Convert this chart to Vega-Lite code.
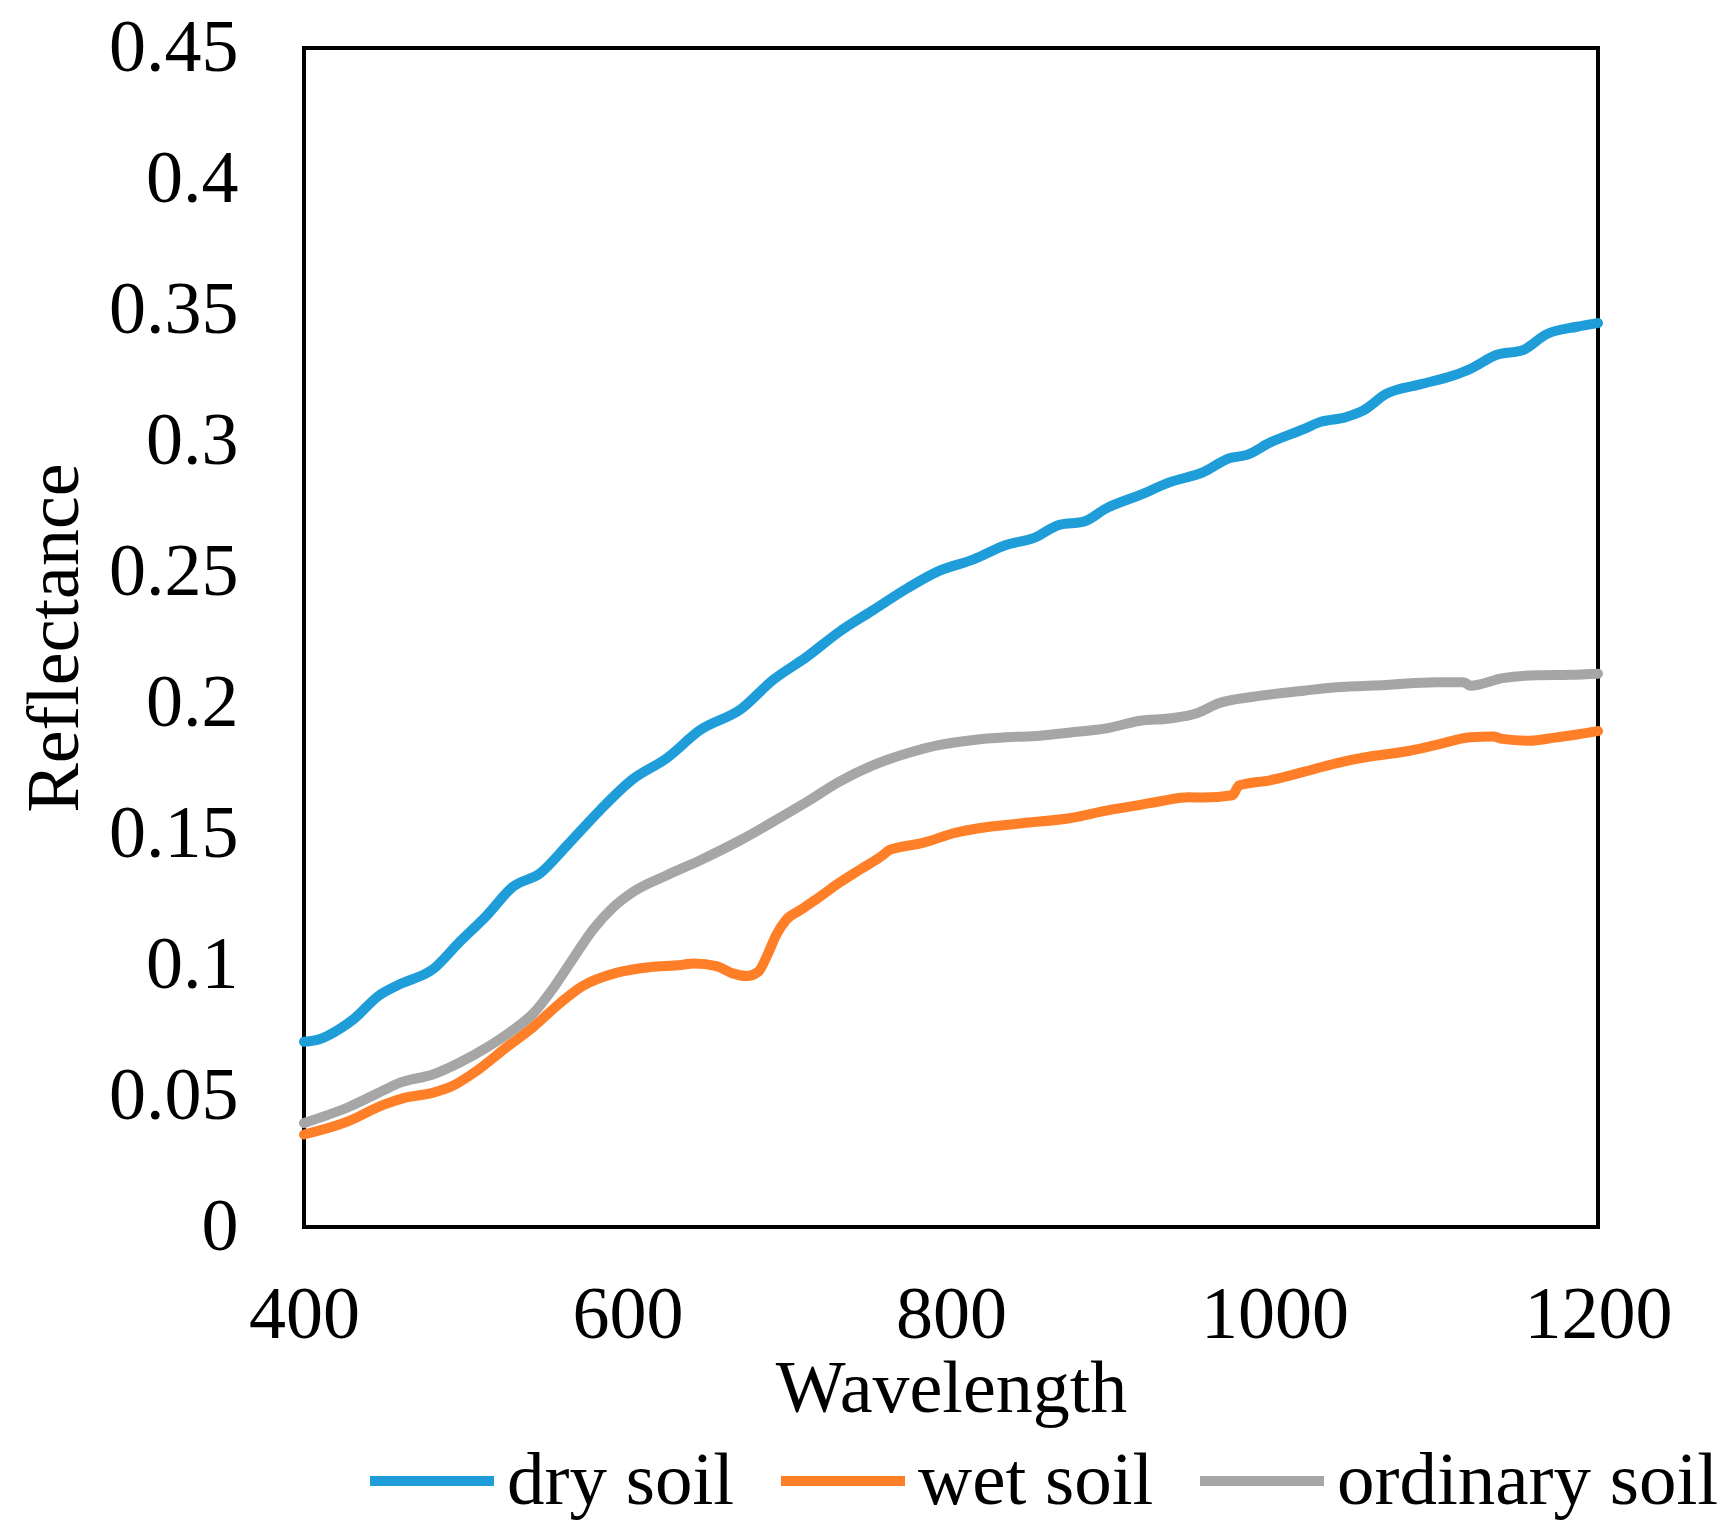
{
  "$schema": "https://vega.github.io/schema/vega-lite/v6.json",
  "width": 1294,
  "height": 1179,
  "autosize": {"type": "none"},
  "padding": {"left": 304, "top": 48, "right": 130, "bottom": 310},
  "background": "white",
  "data": {
    "values": [
      {"soil": "dry soil", "wavelength": 400, "reflectance": 0.0707},
      {"soil": "dry soil", "wavelength": 410, "reflectance": 0.0718},
      {"soil": "dry soil", "wavelength": 422, "reflectance": 0.0756},
      {"soil": "dry soil", "wavelength": 431, "reflectance": 0.0795},
      {"soil": "dry soil", "wavelength": 446, "reflectance": 0.0882},
      {"soil": "dry soil", "wavelength": 459, "reflectance": 0.0926},
      {"soil": "dry soil", "wavelength": 480, "reflectance": 0.0985},
      {"soil": "dry soil", "wavelength": 496, "reflectance": 0.1087},
      {"soil": "dry soil", "wavelength": 513, "reflectance": 0.1189},
      {"soil": "dry soil", "wavelength": 529, "reflectance": 0.1298},
      {"soil": "dry soil", "wavelength": 546, "reflectance": 0.135},
      {"soil": "dry soil", "wavelength": 563, "reflectance": 0.1459},
      {"soil": "dry soil", "wavelength": 583, "reflectance": 0.1591},
      {"soil": "dry soil", "wavelength": 603, "reflectance": 0.1708},
      {"soil": "dry soil", "wavelength": 624, "reflectance": 0.1788},
      {"soil": "dry soil", "wavelength": 645, "reflectance": 0.1897},
      {"soil": "dry soil", "wavelength": 670, "reflectance": 0.1976},
      {"soil": "dry soil", "wavelength": 690, "reflectance": 0.2088},
      {"soil": "dry soil", "wavelength": 711, "reflectance": 0.2177},
      {"soil": "dry soil", "wavelength": 731, "reflectance": 0.2272},
      {"soil": "dry soil", "wavelength": 752, "reflectance": 0.2355},
      {"soil": "dry soil", "wavelength": 773, "reflectance": 0.2438},
      {"soil": "dry soil", "wavelength": 793, "reflectance": 0.2505},
      {"soil": "dry soil", "wavelength": 814, "reflectance": 0.2548},
      {"soil": "dry soil", "wavelength": 834, "reflectance": 0.2603},
      {"soil": "dry soil", "wavelength": 851, "reflectance": 0.2629},
      {"soil": "dry soil", "wavelength": 867, "reflectance": 0.268},
      {"soil": "dry soil", "wavelength": 882, "reflectance": 0.2692},
      {"soil": "dry soil", "wavelength": 896, "reflectance": 0.2743},
      {"soil": "dry soil", "wavelength": 917, "reflectance": 0.2794},
      {"soil": "dry soil", "wavelength": 935, "reflectance": 0.2842},
      {"soil": "dry soil", "wavelength": 956, "reflectance": 0.2881},
      {"soil": "dry soil", "wavelength": 972, "reflectance": 0.2934},
      {"soil": "dry soil", "wavelength": 983, "reflectance": 0.2947},
      {"soil": "dry soil", "wavelength": 997, "reflectance": 0.2993},
      {"soil": "dry soil", "wavelength": 1018, "reflectance": 0.3045},
      {"soil": "dry soil", "wavelength": 1028, "reflectance": 0.3072},
      {"soil": "dry soil", "wavelength": 1044, "reflectance": 0.3091},
      {"soil": "dry soil", "wavelength": 1055, "reflectance": 0.3117},
      {"soil": "dry soil", "wavelength": 1069, "reflectance": 0.318},
      {"soil": "dry soil", "wavelength": 1090, "reflectance": 0.3216},
      {"soil": "dry soil", "wavelength": 1110, "reflectance": 0.3249},
      {"soil": "dry soil", "wavelength": 1121, "reflectance": 0.3275},
      {"soil": "dry soil", "wavelength": 1137, "reflectance": 0.3328},
      {"soil": "dry soil", "wavelength": 1154, "reflectance": 0.3348},
      {"soil": "dry soil", "wavelength": 1168, "reflectance": 0.3407},
      {"soil": "dry soil", "wavelength": 1187, "reflectance": 0.3436},
      {"soil": "dry soil", "wavelength": 1200, "reflectance": 0.345},
      {"soil": "wet soil", "wavelength": 400, "reflectance": 0.0353},
      {"soil": "wet soil", "wavelength": 426, "reflectance": 0.04},
      {"soil": "wet soil", "wavelength": 449, "reflectance": 0.0466},
      {"soil": "wet soil", "wavelength": 461, "reflectance": 0.0491},
      {"soil": "wet soil", "wavelength": 480, "reflectance": 0.0513},
      {"soil": "wet soil", "wavelength": 492, "reflectance": 0.0539},
      {"soil": "wet soil", "wavelength": 507, "reflectance": 0.0597},
      {"soil": "wet soil", "wavelength": 525, "reflectance": 0.0685},
      {"soil": "wet soil", "wavelength": 542, "reflectance": 0.0765},
      {"soil": "wet soil", "wavelength": 558, "reflectance": 0.0853},
      {"soil": "wet soil", "wavelength": 572, "reflectance": 0.0919},
      {"soil": "wet soil", "wavelength": 593, "reflectance": 0.097},
      {"soil": "wet soil", "wavelength": 614, "reflectance": 0.0992},
      {"soil": "wet soil", "wavelength": 633, "reflectance": 0.1},
      {"soil": "wet soil", "wavelength": 641, "reflectance": 0.1006},
      {"soil": "wet soil", "wavelength": 655, "reflectance": 0.0996},
      {"soil": "wet soil", "wavelength": 665, "reflectance": 0.0968},
      {"soil": "wet soil", "wavelength": 674, "reflectance": 0.0958},
      {"soil": "wet soil", "wavelength": 681, "reflectance": 0.0975},
      {"soil": "wet soil", "wavelength": 686, "reflectance": 0.1032},
      {"soil": "wet soil", "wavelength": 692, "reflectance": 0.1115},
      {"soil": "wet soil", "wavelength": 698, "reflectance": 0.1172},
      {"soil": "wet soil", "wavelength": 707, "reflectance": 0.121},
      {"soil": "wet soil", "wavelength": 719, "reflectance": 0.1261},
      {"soil": "wet soil", "wavelength": 731, "reflectance": 0.1314},
      {"soil": "wet soil", "wavelength": 744, "reflectance": 0.1365},
      {"soil": "wet soil", "wavelength": 755, "reflectance": 0.1407},
      {"soil": "wet soil", "wavelength": 758, "reflectance": 0.142},
      {"soil": "wet soil", "wavelength": 762, "reflectance": 0.1439},
      {"soil": "wet soil", "wavelength": 782, "reflectance": 0.1465},
      {"soil": "wet soil", "wavelength": 803, "reflectance": 0.1505},
      {"soil": "wet soil", "wavelength": 817, "reflectance": 0.1522},
      {"soil": "wet soil", "wavelength": 844, "reflectance": 0.1541},
      {"soil": "wet soil", "wavelength": 875, "reflectance": 0.1562},
      {"soil": "wet soil", "wavelength": 896, "reflectance": 0.1589},
      {"soil": "wet soil", "wavelength": 917, "reflectance": 0.1611},
      {"soil": "wet soil", "wavelength": 931, "reflectance": 0.1627},
      {"soil": "wet soil", "wavelength": 947, "reflectance": 0.164},
      {"soil": "wet soil", "wavelength": 956, "reflectance": 0.1639},
      {"soil": "wet soil", "wavelength": 974, "reflectance": 0.1648},
      {"soil": "wet soil", "wavelength": 978, "reflectance": 0.1685},
      {"soil": "wet soil", "wavelength": 997, "reflectance": 0.1705},
      {"soil": "wet soil", "wavelength": 1018, "reflectance": 0.1737},
      {"soil": "wet soil", "wavelength": 1038, "reflectance": 0.177},
      {"soil": "wet soil", "wavelength": 1059, "reflectance": 0.1796},
      {"soil": "wet soil", "wavelength": 1080, "reflectance": 0.1814},
      {"soil": "wet soil", "wavelength": 1100, "reflectance": 0.184},
      {"soil": "wet soil", "wavelength": 1121, "reflectance": 0.1869},
      {"soil": "wet soil", "wavelength": 1135, "reflectance": 0.1872},
      {"soil": "wet soil", "wavelength": 1141, "reflectance": 0.1863},
      {"soil": "wet soil", "wavelength": 1158, "reflectance": 0.1856},
      {"soil": "wet soil", "wavelength": 1172, "reflectance": 0.1867},
      {"soil": "wet soil", "wavelength": 1187, "reflectance": 0.188},
      {"soil": "wet soil", "wavelength": 1200, "reflectance": 0.1893},
      {"soil": "ordinary soil", "wavelength": 400, "reflectance": 0.0397},
      {"soil": "ordinary soil", "wavelength": 428, "reflectance": 0.0459},
      {"soil": "ordinary soil", "wavelength": 449, "reflectance": 0.0521},
      {"soil": "ordinary soil", "wavelength": 459, "reflectance": 0.055},
      {"soil": "ordinary soil", "wavelength": 480, "reflectance": 0.0583},
      {"soil": "ordinary soil", "wavelength": 496, "reflectance": 0.0627},
      {"soil": "ordinary soil", "wavelength": 513, "reflectance": 0.0685},
      {"soil": "ordinary soil", "wavelength": 529, "reflectance": 0.0751},
      {"soil": "ordinary soil", "wavelength": 542, "reflectance": 0.0817},
      {"soil": "ordinary soil", "wavelength": 554, "reflectance": 0.0911},
      {"soil": "ordinary soil", "wavelength": 566, "reflectance": 0.1021},
      {"soil": "ordinary soil", "wavelength": 579, "reflectance": 0.1138},
      {"soil": "ordinary soil", "wavelength": 591, "reflectance": 0.1219},
      {"soil": "ordinary soil", "wavelength": 603, "reflectance": 0.1277},
      {"soil": "ordinary soil", "wavelength": 624, "reflectance": 0.1342},
      {"soil": "ordinary soil", "wavelength": 645, "reflectance": 0.14},
      {"soil": "ordinary soil", "wavelength": 670, "reflectance": 0.1477},
      {"soil": "ordinary soil", "wavelength": 690, "reflectance": 0.1547},
      {"soil": "ordinary soil", "wavelength": 711, "reflectance": 0.1623},
      {"soil": "ordinary soil", "wavelength": 731, "reflectance": 0.17},
      {"soil": "ordinary soil", "wavelength": 752, "reflectance": 0.1763},
      {"soil": "ordinary soil", "wavelength": 773, "reflectance": 0.1808},
      {"soil": "ordinary soil", "wavelength": 793, "reflectance": 0.184},
      {"soil": "ordinary soil", "wavelength": 814, "reflectance": 0.1859},
      {"soil": "ordinary soil", "wavelength": 834, "reflectance": 0.1869},
      {"soil": "ordinary soil", "wavelength": 855, "reflectance": 0.1875},
      {"soil": "ordinary soil", "wavelength": 875, "reflectance": 0.1888},
      {"soil": "ordinary soil", "wavelength": 896, "reflectance": 0.1903},
      {"soil": "ordinary soil", "wavelength": 917, "reflectance": 0.1932},
      {"soil": "ordinary soil", "wavelength": 935, "reflectance": 0.1941},
      {"soil": "ordinary soil", "wavelength": 952, "reflectance": 0.1961},
      {"soil": "ordinary soil", "wavelength": 966, "reflectance": 0.2},
      {"soil": "ordinary soil", "wavelength": 987, "reflectance": 0.2024},
      {"soil": "ordinary soil", "wavelength": 1018, "reflectance": 0.2047},
      {"soil": "ordinary soil", "wavelength": 1038, "reflectance": 0.206},
      {"soil": "ordinary soil", "wavelength": 1069, "reflectance": 0.2069},
      {"soil": "ordinary soil", "wavelength": 1100, "reflectance": 0.2079},
      {"soil": "ordinary soil", "wavelength": 1117, "reflectance": 0.2079},
      {"soil": "ordinary soil", "wavelength": 1121, "reflectance": 0.2066},
      {"soil": "ordinary soil", "wavelength": 1141, "reflectance": 0.2095},
      {"soil": "ordinary soil", "wavelength": 1162, "reflectance": 0.2106},
      {"soil": "ordinary soil", "wavelength": 1183, "reflectance": 0.2108},
      {"soil": "ordinary soil", "wavelength": 1200, "reflectance": 0.2112}
    ]
  },
  "mark": {
    "type": "line",
    "strokeWidth": 10,
    "strokeCap": "round",
    "strokeJoin": "round",
    "interpolate": "monotone"
  },
  "encoding": {
    "x": {
      "field": "wavelength",
      "type": "quantitative",
      "scale": {"domain": [400, 1200], "nice": false, "zero": false},
      "axis": {
        "title": "Wavelength",
        "values": [400, 600, 800, 1000, 1200],
        "format": "d",
        "labelPadding": 52,
        "titlePadding": 1
      }
    },
    "y": {
      "field": "reflectance",
      "type": "quantitative",
      "scale": {"domain": [0, 0.45], "nice": false},
      "axis": {
        "title": "Reflectance",
        "values": [0, 0.05, 0.1, 0.15, 0.2, 0.25, 0.3, 0.35, 0.4, 0.45],
        "format": "~g",
        "labelPadding": 66,
        "titlePadding": 15
      }
    },
    "color": {
      "field": "soil",
      "type": "nominal",
      "sort": ["dry soil", "wet soil", "ordinary soil"],
      "scale": {
        "domain": ["dry soil", "wet soil", "ordinary soil"],
        "range": ["#1e9dd9", "#fe7f27", "#a6a6a6"]
      },
      "legend": {
        "title": null,
        "orient": "none",
        "direction": "horizontal",
        "legendX": 61,
        "legendY": 1366,
        "symbolType": "stroke",
        "symbolSize": 15376,
        "symbolStrokeWidth": 10,
        "labelFont": "Liberation Serif",
        "labelFontSize": 75,
        "labelColor": "black",
        "labelLimit": 0,
        "labelOffset": 8,
        "columnPadding": 26,
        "padding": 0
      }
    }
  },
  "config": {
    "view": {"stroke": "black", "strokeWidth": 4},
    "axis": {
      "grid": false,
      "domain": false,
      "ticks": false,
      "tickSize": 0,
      "labelFont": "Liberation Serif",
      "labelFontSize": 74,
      "labelColor": "black",
      "titleFont": "Liberation Serif",
      "titleFontSize": 74,
      "titleFontWeight": "normal",
      "titleColor": "black",
      "labelFlush": false,
      "labelOverlap": false
    }
  }
}
